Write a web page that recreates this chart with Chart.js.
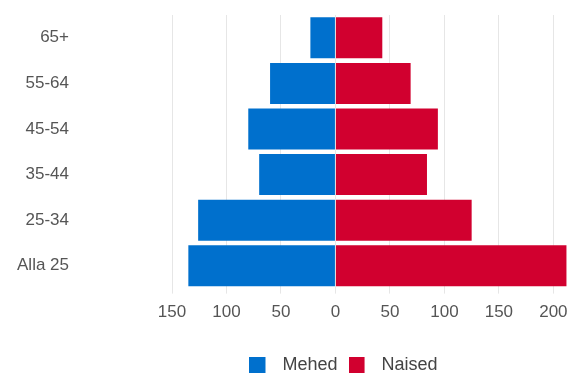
<!DOCTYPE html>
<html>
<head>
<meta charset="utf-8">
<script src="https://cdn.jsdelivr.net/npm/chart.js@4"></script>
<style>
  body { margin: 0; background: #fff; }
  #wrap { width: 573px; height: 376px; position: relative; }
</style>
</head>
<body>
<div id="wrap"><canvas id="c"></canvas></div>
<script>
const ageGroups = ['65+', '55-64', '45-54', '35-44', '25-34', 'Alla 25'];
const mehed = [23, 60, 80, 70, 126, 135];
const naised = [43, 69, 94, 84, 125, 212];
const xTicks = [-150, -100, -50, 0, 50, 100, 150, 200];
const colors = ['#0070cd', '#d1002f'];

Chart.defaults.font.family = '"Liberation Sans", Arial, sans-serif';
Chart.defaults.color = '#555';

// square legend swatch with some room after it, like the original
const swatch = color => {
    const c = document.createElement('canvas');
    c.width = 24; c.height = 16;
    const g = c.getContext('2d');
    g.fillStyle = color;
    g.fillRect(0, 0, 16, 16);
    return c;
};

// legend sits a bit right of centre and lower in the original
const moveLegend = {
    id: 'moveLegend',
    afterLayout(chart) {
        const l = chart.legend;
        l.left += 120;
        l.top += 13;
        l.bottom += 13;
    }
};

new Chart(document.getElementById('c'), {
    type: 'bar',
    data: {
        labels: ageGroups,
        datasets: [
            {
                label: 'Mehed',
                data: mehed.map(v => -v),
                backgroundColor: colors[0],
                barPercentage: 1,
                categoryPercentage: 0.9
            },
            {
                label: 'Naised',
                data: naised,
                backgroundColor: colors[1],
                barPercentage: 1,
                categoryPercentage: 0.9
            }
        ]
    },
    options: {
        indexAxis: 'y',
        responsive: true,
        maintainAspectRatio: false,
        animation: false,
        layout: { padding: { top: 15, right: 6, left: 0, bottom: 5 } },
        plugins: {
            legend: {
                position: 'bottom',
                labels: {
                    usePointStyle: true,
                    pointStyleWidth: 24,
                    padding: 11,
                    color: '#444',
                    font: { size: 18 },
                    generateLabels: chart => {
                        const items = Chart.defaults.plugins.legend.labels.generateLabels(chart);
                        items.forEach((it, i) => { it.pointStyle = swatch(colors[i]); });
                        return items;
                    }
                }
            },
            tooltip: {
                callbacks: {
                    label: ctx => ctx.dataset.label + ': ' + Math.abs(ctx.parsed.x)
                }
            }
        },
        scales: {
            x: {
                stacked: true,
                min: -150,
                max: 212.5,
                afterBuildTicks: axis => {
                    axis.ticks = xTicks.map(v => ({ value: v }));
                },
                afterFit: axis => {
                    axis.paddingLeft = 0;
                    axis.paddingRight = 0;
                },
                grid: { color: '#e6e6e6', tickLength: 5 },
                border: { display: false },
                ticks: {
                    padding: 9,
                    font: { size: 17 },
                    callback: v => Math.abs(v)
                }
            },
            y: {
                stacked: true,
                grid: { display: false, drawTicks: false },
                border: { display: false },
                afterFit: axis => {
                    axis.width = 172;
                    axis.paddingTop = 0;
                    axis.paddingBottom = 0;
                },
                ticks: {
                    padding: 103,
                    font: { size: 17 }
                }
            }
        }
    },
    plugins: [moveLegend]
});
</script>
</body>
</html>
